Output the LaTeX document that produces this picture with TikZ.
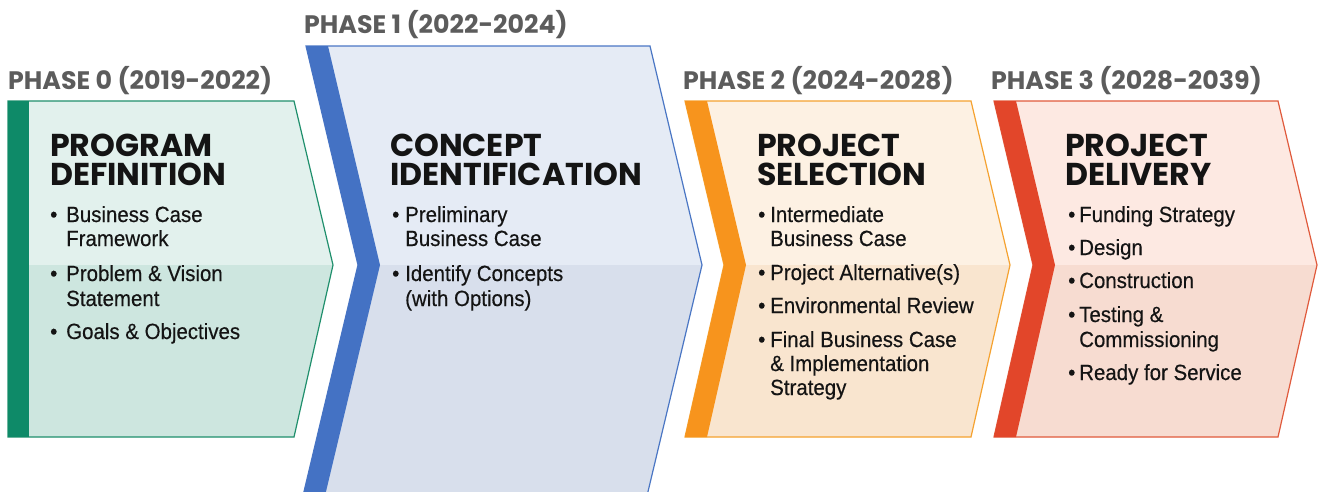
\documentclass[tikz,border=0pt]{standalone}
\usepackage{fontspec}
\setmainfont{Liberation Sans}
\newfontfamily\bodyfont{Liberation Sans}[FakeStretch=0.93,FakeBold=0.4]
\newfontfamily\titlefont{Poppins}
\definecolor{hdrgray}{HTML}{5C5C5C}
\definecolor{ink}{HTML}{141414}
\definecolor{gA}{HTML}{E2F1ED}\definecolor{gB}{HTML}{CDE6DF}\definecolor{gC}{HTML}{0E8A68}\definecolor{gD}{HTML}{1F8F6C}
\definecolor{bA}{HTML}{E5EBF5}\definecolor{bB}{HTML}{D8DFEC}\definecolor{bC}{HTML}{4472C4}\definecolor{bD}{HTML}{4A76C4}
\definecolor{oA}{HTML}{FDF1E3}\definecolor{oB}{HTML}{F9E5CF}\definecolor{oC}{HTML}{F7941D}\definecolor{oD}{HTML}{F5A230}
\definecolor{rA}{HTML}{FDE9E2}\definecolor{rB}{HTML}{F7DCD1}\definecolor{rC}{HTML}{E2462A}\definecolor{rD}{HTML}{E05A3C}
\begin{document}
\begin{tikzpicture}[x=1pt,y=-1pt,
  hdr/.style={anchor=base west,inner sep=0,font=\titlefont\bfseries\fontsize{25.3}{28}\selectfont,text=hdrgray},
  ttl/.style={anchor=base west,inner sep=0,font=\titlefont\bfseries\fontsize{31.6}{34}\selectfont,text=ink},
  itm/.style={anchor=base west,inner sep=0,font=\bodyfont\fontsize{22}{26}\selectfont,text=ink},
  bord/.style={line width=1.2pt,line join=miter}]
\useasboundingbox (0,0) rectangle (1318,491);
% ---------- Phase 0
\fill[gA] (8,101) -- (294,101) -- (333,265) -- (294,437) -- (8,437) -- cycle;
\begin{scope}\clip (0,265) rectangle (1318,500);
\fill[gB] (8,101) -- (294,101) -- (333,265) -- (294,437) -- (8,437) -- cycle;
\end{scope}
\draw[bord,gD] (8,101) -- (294,101) -- (333,265) -- (294,437) -- (8,437) -- cycle;
\fill[gC] (8,101) rectangle (29,437);
% ---------- Phase 1
\fill[bA] (306,46) -- (650,46) -- (702,265) -- (646,500) -- (302,500) -- (358,265) -- cycle;
\begin{scope}\clip (0,265) rectangle (1318,500);
\fill[bB] (306,46) -- (650,46) -- (702,265) -- (646,500) -- (302,500) -- (358,265) -- cycle;
\end{scope}
\draw[bord,bD] (306,46) -- (650,46) -- (702,265) -- (646,500) -- (302,500) -- (358,265) -- cycle;
\fill[bC] (306,46) -- (328,46) -- (380,265) -- (324,500) -- (302,500) -- (358,265) -- cycle;
% ---------- Phase 2
\fill[oA] (685,101) -- (971,101) -- (1010,265) -- (971,437) -- (685,437) -- (724,265) -- cycle;
\begin{scope}\clip (0,265) rectangle (1318,500);
\fill[oB] (685,101) -- (971,101) -- (1010,265) -- (971,437) -- (685,437) -- (724,265) -- cycle;
\end{scope}
\draw[bord,oD] (685,101) -- (971,101) -- (1010,265) -- (971,437) -- (685,437) -- (724,265) -- cycle;
\fill[oC] (685,101) -- (707,101) -- (746,265) -- (707,437) -- (685,437) -- (724,265) -- cycle;
% ---------- Phase 3
\fill[rA] (994,101) -- (1278,101) -- (1317,265) -- (1278,437) -- (994,437) -- (1033,265) -- cycle;
\begin{scope}\clip (0,265) rectangle (1318,500);
\fill[rB] (994,101) -- (1278,101) -- (1317,265) -- (1278,437) -- (994,437) -- (1033,265) -- cycle;
\end{scope}
\draw[bord,rD] (994,101) -- (1278,101) -- (1317,265) -- (1278,437) -- (994,437) -- (1033,265) -- cycle;
\fill[rC] (994,101) -- (1016,101) -- (1055,265) -- (1016,437) -- (994,437) -- (1033,265) -- cycle;
% ---------- headers
\node[hdr] (h0) at (8,89) {PHASE 0 (2019-2022)};
\node[hdr] (h1) at (304,33) {PHASE 1 (2022-2024)};
\node[hdr] (h2) at (683,89) {PHASE 2 (2024-2028)};
\node[hdr] (h3) at (991,89) {PHASE 3 (2028-2039)};
% ---------- titles
\node[ttl] (t0a) at (50,156) {PROGRAM};
\node[ttl] (t0b) at (50,185) {DEFINITION};
\node[ttl] (t1a) at (390,156) {CONCEPT};
\node[ttl] (t1b) at (390,185) {IDENTIFICATION};
\node[ttl] (t2a) at (757,156) {PROJECT};
\node[ttl] (t2b) at (757,185) {SELECTION};
\node[ttl] (t3a) at (1065,156) {PROJECT};
\node[ttl] (t3b) at (1065,185) {DELIVERY};
% ---------- phase 0 items
\node[itm] (d01) at (50,222) {•};
\node[itm] (i01) at (66,222) {Business Case};
\node[itm] (i01b) at (66,246) {Framework};
\node[itm] (d02) at (50,281) {•};
\node[itm] (i02) at (66,281) {Problem \& Vision};
\node[itm] (i02b) at (66,306) {Statement};
\node[itm] (d03) at (50,339) {•};
\node[itm] (i03) at (66,339) {Goals \& Objectives};
% ---------- phase 1 items
\node[itm] (d11) at (392,222) {•};
\node[itm] (i11) at (405,222) {Preliminary};
\node[itm] (i11b) at (405,246) {Business Case};
\node[itm] (d12) at (392,281) {•};
\node[itm] (i12) at (405,281) {Identify Concepts};
\node[itm] (i12b) at (405,306) {(with Options)};
% ---------- phase 2 items
\node[itm] (d21) at (758,222) {•};
\node[itm] (i21) at (770,222) {Intermediate};
\node[itm] (i21b) at (770,246) {Business Case};
\node[itm] (d22) at (758,280) {•};
\node[itm] (i22) at (770,280) {Project Alternative(s)};
\node[itm] (d23) at (758,313) {•};
\node[itm] (i23) at (770,313) {Environmental Review};
\node[itm] (d24) at (758,347) {•};
\node[itm] (i24) at (770,347) {Final Business Case};
\node[itm] (i24b) at (770,371) {\& Implementation};
\node[itm] (i24c) at (770,395) {Strategy};
% ---------- phase 3 items
\node[itm] (d31) at (1068,222) {•};
\node[itm] (i31) at (1079,222) {Funding Strategy};
\node[itm] (d32) at (1068,255) {•};
\node[itm] (i32) at (1079,255) {Design};
\node[itm] (d33) at (1068,288) {•};
\node[itm] (i33) at (1079,288) {Construction};
\node[itm] (d34) at (1068,322) {•};
\node[itm] (i34) at (1079,322) {Testing \&};
\node[itm] (i34b) at (1079,347) {Commissioning};
\node[itm] (d35) at (1068,380) {•};
\node[itm] (i35) at (1079,380) {Ready for Service};
\end{tikzpicture}
\end{document}
